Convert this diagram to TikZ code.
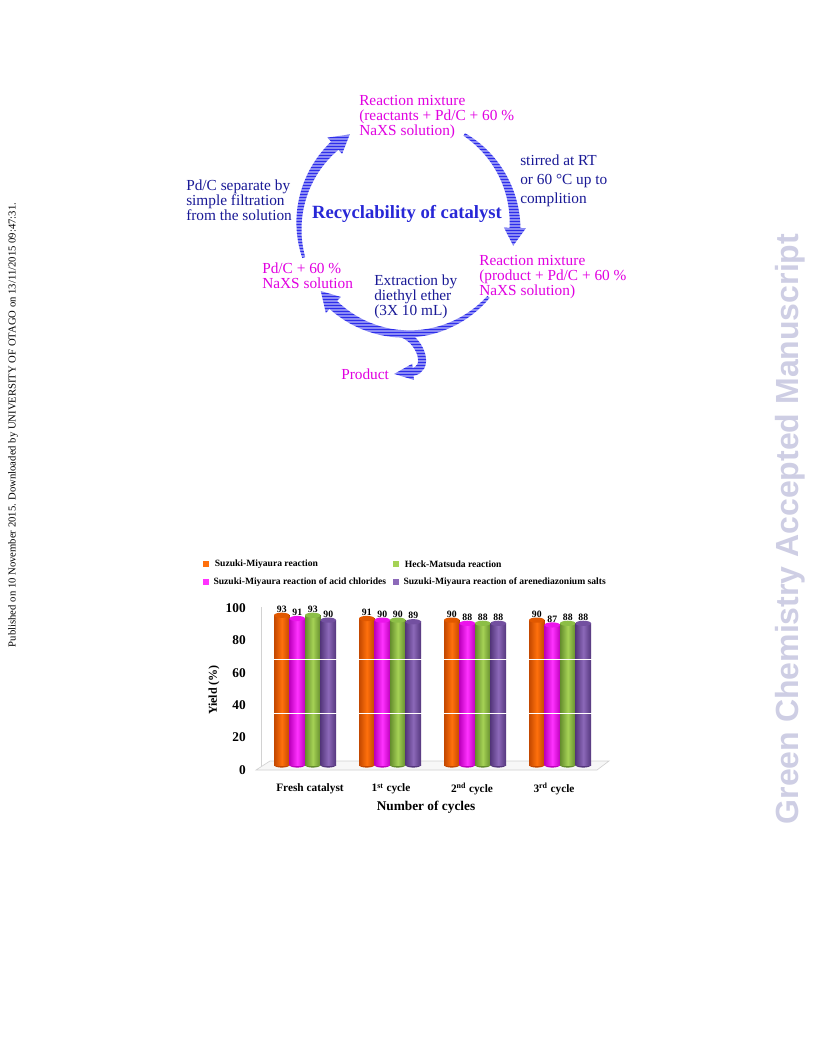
\documentclass[tikz,border=0pt]{standalone}
\usepackage{fontspec}
\setmainfont{Liberation Serif}
\newfontfamily\wmfont{Liberation Sans}
\usetikzlibrary{arrows.meta,positioning,calc,backgrounds}

\definecolor{cycblue}{RGB}{45,45,235}
\definecolor{txtnavy}{RGB}{25,25,150}
\definecolor{txtmag}{RGB}{225,0,225}
\definecolor{titblue}{RGB}{40,40,215}
\definecolor{wmark}{RGB}{206,206,228}
\definecolor{orb}{RGB}{255,112,12}\definecolor{orbD}{RGB}{195,72,0}\definecolor{orbL}{RGB}{225,88,0}
\definecolor{mgb}{RGB}{255,50,255}\definecolor{mgbD}{RGB}{190,0,190}\definecolor{mgbL}{RGB}{235,20,235}
\definecolor{grb}{RGB}{165,210,85}\definecolor{grbD}{RGB}{100,140,45}\definecolor{grbL}{RGB}{140,190,70}
\definecolor{pub}{RGB}{140,105,185}\definecolor{pubD}{RGB}{85,55,125}\definecolor{pubL}{RGB}{115,80,160}

% one cylinder bar: name, x centre, value, colour (the colour has a D and L twin for the shading)
\newcommand{\cylbar}[4]{%
  \pgfmathsetmacro{\ytop}{765-1.61*#3}%
  \edef\cbM{#4}\edef\cbD{#4D}\edef\cbL{#4L}%
  \fill[\cbD] (#2,765) ellipse [x radius=7.75, y radius=2.6];
  \fill[left color=\cbD, right color=\cbD, middle color=\cbM] (#2-7.75,\ytop) rectangle (#2+7.75,765);
  \fill[\cbL] (#2,\ytop) ellipse [x radius=7.75, y radius=2.6];
  \node[vallab] (#1) at (#2,\ytop-6) {#3};}

% one piece of the round cycle arrow: start angle, angle where the head begins, angle of the tip
% it gets thicker from start to head, centre (407,226) radius 108
\newcommand{\cycarc}[3]{%
  \fill[cycblue] plot[variable=\t, domain=#1:#2, samples=30] ({407+(109.5+4*(\t-(#1))/((#2)-(#1)))*cos(\t)}, {226+(109.5+4*(\t-(#1))/((#2)-(#1)))*sin(\t)})
  -- ({407+119*cos(#2)}, {226+119*sin(#2)}) -- ({407+108*cos(#3)}, {226+108*sin(#3)}) -- ({407+97*cos(#2)}, {226+97*sin(#2)})
  -- plot[variable=\t, domain=#2:#1, samples=30] ({407+(106.5-4*(\t-(#1))/((#2)-(#1)))*cos(\t)}, {226+(106.5-4*(\t-(#1))/((#2)-(#1)))*sin(\t)}) -- cycle;}

\begin{document}
\begin{tikzpicture}[x=0.75pt,y=-0.75pt,
magtxt/.style={text=txtmag, font=\fontsize{11.5}{11.2}\selectfont, align=left, inner sep=0pt},
navytxt/.style={text=txtnavy, font=\fontsize{11.5}{11.2}\selectfont, align=left, inner sep=0pt},
cycarr/.style={draw=cycblue, line width=6pt, -{Triangle[width=11pt,length=15pt]}},
legsq/.style={rectangle, minimum size=4.5pt, inner sep=0pt},
legtxt/.style={font=\fontsize{7.2}{8}\selectfont\bfseries, inner sep=0pt, anchor=west},
ticklab/.style={font=\fontsize{10}{11}\selectfont\bfseries, anchor=east, inner sep=0pt},
catlab/.style={font=\fontsize{8.5}{10}\selectfont\bfseries, inner sep=0pt},
vallab/.style={font=\fontsize{7.3}{8}\selectfont\bfseries, inner sep=0pt}] % 1 unit is one pixel of the page, y goes down like on the screen
\useasboundingbox (0,0) rectangle (816,1056);

% the cycle, all the texts first so the arrows can go behind them
\coordinate (cyc) at (407,226); % centre of the round cycle, radius is 108
\node[magtxt, anchor=north west] (rmtop) at (359,95) {Reaction mixture\\(reactants + Pd/C + 60 \%\\NaXS solution)};
\node[navytxt, anchor=north west, font=\fontsize{11.5}{14}\selectfont] (stir) at (520,155) {stirred at RT\\or 60 °C up to\\complition};
\node[navytxt, anchor=north west] (filt) at (186,180) {Pd/C separate by\\simple filtration\\from the solution};
\node[text=titblue, font=\fontsize{14}{16}\selectfont\bfseries] (recy) at (407,214) {Recyclability of catalyst};
\node[magtxt, anchor=north west] (rmbot) at (479,255) {Reaction mixture\\(product + Pd/C + 60 \%\\NaXS solution)};
\node[magtxt, anchor=north west] (pdc) at (262,263) {Pd/C + 60 \%\\NaXS solution};
\node[navytxt, anchor=north west] (extr) at (374,275) {Extraction by\\diethyl ether\\(3X 10 mL)};
\node[magtxt, anchor=west] (prod) at (341,374) {Product};

\begin{scope}[on background layer]
\fill[white] (0,0) rectangle (816,1056);
\cycarc{-58}{1}{10.5} % top to the right side, clockwise
\cycarc{41}{133}{143} % round the bottom
\cycarc{163}{228}{238} % up the left side
\coordinate (brs) at ([shift={(92:108)}]cyc);
\draw[cycarr] (brs) .. controls (422,342) and (430,370) .. ([xshift=3pt]prod.east); % the product goes out here
\foreach \yy in {118,121,...,386} \draw[white, opacity=.45, line width=0.8pt] (288,\yy) -- (535,\yy); % the stripes on the blue arrows
\end{scope}

% the bar chart
\node[legsq, fill=orb] (sq1) at (206,564) {};
\node[legtxt, right=4pt of sq1] (lg1) {Suzuki-Miyaura reaction};
\node[legsq, fill=grb] (sq2) at (396,564) {};
\node[legtxt, right=4pt of sq2] (lg2) {Heck-Matsuda reaction};
\node[legsq, fill=mgb] (sq3) at (206,582) {};
\node[legtxt, right=3pt of sq3] (lg3) {Suzuki-Miyaura reaction of acid chlorides};
\node[legsq, fill=pub] (sq4) at (396,582) {};
\node[legtxt, right=3pt of sq4] (lg4) {Suzuki-Miyaura reaction of arenediazonium salts};

\filldraw[fill=gray!6, draw=gray!35, line width=0.5pt] (256,770) -- (270,761) -- (609,761) -- (597,770) -- cycle; % the floor
\draw[gray!35, line width=0.5pt] (261,607) -- (261,766); % back wall edge
\foreach \v in {0,20,...,100} \node[ticklab] (yt\v) at (246,{770-1.62*\v}) {\v};
\node[font=\fontsize{9}{10}\selectfont\bfseries, rotate=90, inner sep=0pt] (ylab) at (214,690) {Yield (\%)};

\foreach \g/\va/\vb/\vc/\vd in {0/93/91/93/90,1/91/90/90/89,2/90/88/88/88,3/90/87/88/88}{
  \foreach \i/\v/\col in {0/\va/orb,1/\vb/mgb,2/\vc/grb,3/\vd/pub}{
    \pgfmathsetmacro{\bx}{281.75+85*\g+15.5*\i}
    \cylbar{val\g\i}{\bx}{\v}{\col}
  }
} % 4 groups and 4 bars each
\draw[white, line width=0.6pt] (262,659) -- (605,659) (262,713) -- (605,713);

\node[catlab] (cat0) at (310,789) {Fresh catalyst};
\node[catlab] (cat1) at (391,789) {1\textsuperscript{st} cycle};
\node[catlab] (cat2) at (472,789) {2\textsuperscript{nd} cycle};
\node[catlab] (cat3) at (554,789) {3\textsuperscript{rd} cycle};
\node[font=\fontsize{10}{12}\selectfont\bfseries, inner sep=0pt] (xlab) at (426,807) {Number of cycles};

% the page margins
\node[rotate=90, font=\fontsize{8}{9}\selectfont, inner sep=0pt] (pubd) at (13,425) {Published on 10 November 2015. Downloaded by UNIVERSITY OF OTAGO on 13/11/2015 09:47:31.};
\node[rotate=90, font=\wmfont\bfseries\fontsize{24}{28}\selectfont, text=wmark, inner sep=0pt] (gcam) at (790,529) {Green Chemistry Accepted Manuscript};
\end{tikzpicture}
\end{document}
